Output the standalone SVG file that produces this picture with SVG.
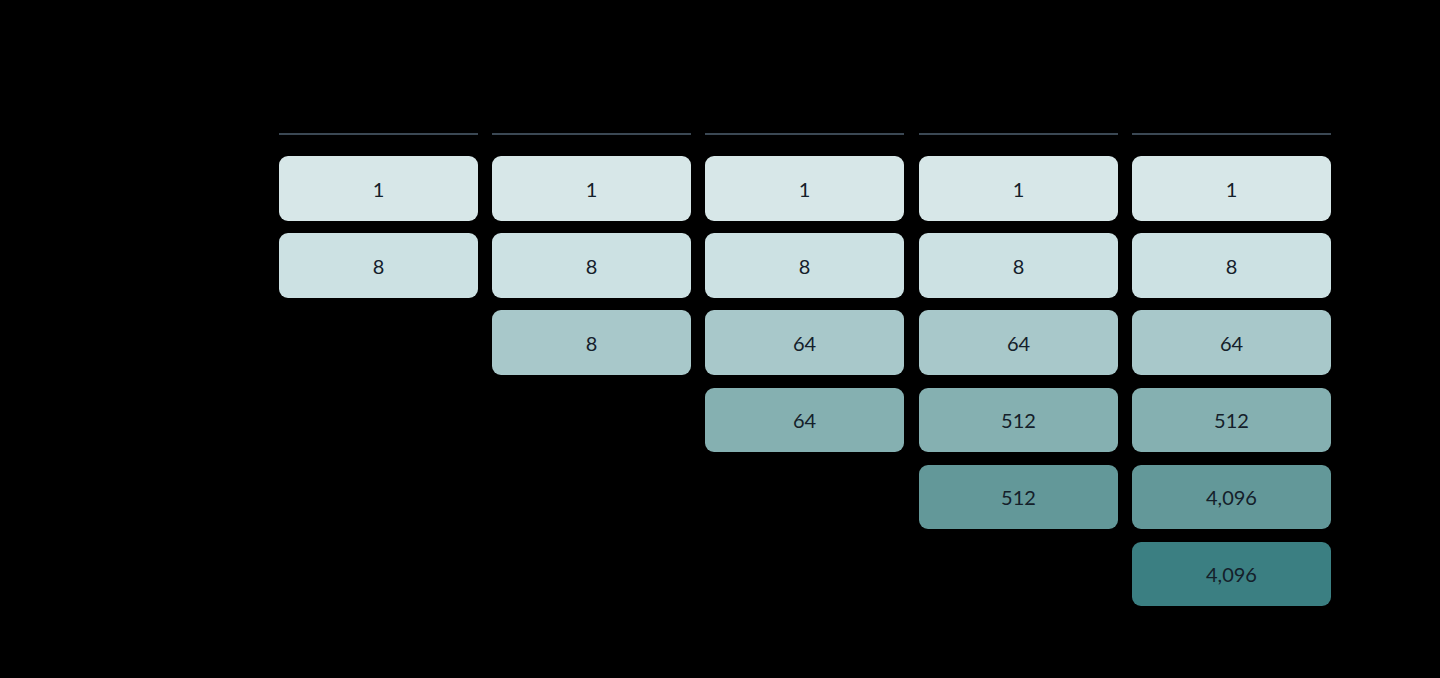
<svg xmlns="http://www.w3.org/2000/svg" width="1440" height="678" viewBox="0 0 1440 678">
<style>
.b{stroke:none}
.t{font-family:Lato,"Liberation Sans",sans-serif;font-size:20px;fill:#14202a;text-anchor:middle;dominant-baseline:central}
.r1{fill:#d7e7e8}.r2{fill:#cce1e3}.r3{fill:#a8c8ca}.r4{fill:#85b0b1}.r5{fill:#639899}.r6{fill:#3b7f82}
.h{stroke:#4f6170;stroke-width:1.5}
</style>
<rect width="1440" height="678" fill="#000"/>
<g id="headers">
<line class="h" x1="279" y1="134" x2="478" y2="134"/>
<line class="h" x1="492" y1="134" x2="691" y2="134"/>
<line class="h" x1="705" y1="134" x2="904" y2="134"/>
<line class="h" x1="919" y1="134" x2="1118" y2="134"/>
<line class="h" x1="1132" y1="134" x2="1331" y2="134"/>
</g>
<g id="connectors"></g>
<g id="c1r1"><rect class="r1" x="279" y="156" width="199" height="65" rx="9"/><text class="t" x="378.5" y="189">1</text></g>
<g id="c1r2"><rect class="r2" x="279" y="233" width="199" height="65" rx="9"/><text class="t" x="378.5" y="266">8</text></g>
<g id="c2r1"><rect class="r1" x="492" y="156" width="199" height="65" rx="9"/><text class="t" x="591.5" y="189">1</text></g>
<g id="c2r2"><rect class="r2" x="492" y="233" width="199" height="65" rx="9"/><text class="t" x="591.5" y="266">8</text></g>
<g id="c2r3"><rect class="r3" x="492" y="310" width="199" height="65" rx="9"/><text class="t" x="591.5" y="343">8</text></g>
<g id="c3r1"><rect class="r1" x="705" y="156" width="199" height="65" rx="9"/><text class="t" x="804.5" y="189">1</text></g>
<g id="c3r2"><rect class="r2" x="705" y="233" width="199" height="65" rx="9"/><text class="t" x="804.5" y="266">8</text></g>
<g id="c3r3"><rect class="r3" x="705" y="310" width="199" height="65" rx="9"/><text class="t" x="804.5" y="343">64</text></g>
<g id="c3r4"><rect class="r4" x="705" y="388" width="199" height="64" rx="9"/><text class="t" x="804.5" y="420">64</text></g>
<g id="c4r1"><rect class="r1" x="919" y="156" width="199" height="65" rx="9"/><text class="t" x="1018.5" y="189">1</text></g>
<g id="c4r2"><rect class="r2" x="919" y="233" width="199" height="65" rx="9"/><text class="t" x="1018.5" y="266">8</text></g>
<g id="c4r3"><rect class="r3" x="919" y="310" width="199" height="65" rx="9"/><text class="t" x="1018.5" y="343">64</text></g>
<g id="c4r4"><rect class="r4" x="919" y="388" width="199" height="64" rx="9"/><text class="t" x="1018.5" y="420">512</text></g>
<g id="c4r5"><rect class="r5" x="919" y="465" width="199" height="64" rx="9"/><text class="t" x="1018.5" y="497">512</text></g>
<g id="c5r1"><rect class="r1" x="1132" y="156" width="199" height="65" rx="9"/><text class="t" x="1231.5" y="189">1</text></g>
<g id="c5r2"><rect class="r2" x="1132" y="233" width="199" height="65" rx="9"/><text class="t" x="1231.5" y="266">8</text></g>
<g id="c5r3"><rect class="r3" x="1132" y="310" width="199" height="65" rx="9"/><text class="t" x="1231.5" y="343">64</text></g>
<g id="c5r4"><rect class="r4" x="1132" y="388" width="199" height="64" rx="9"/><text class="t" x="1231.5" y="420">512</text></g>
<g id="c5r5"><rect class="r5" x="1132" y="465" width="199" height="64" rx="9"/><text class="t" x="1231.5" y="497">4,096</text></g>
<g id="c5r6"><rect class="r6" x="1132" y="542" width="199" height="64" rx="9"/><text class="t" x="1231.5" y="574">4,096</text></g>
</svg>
